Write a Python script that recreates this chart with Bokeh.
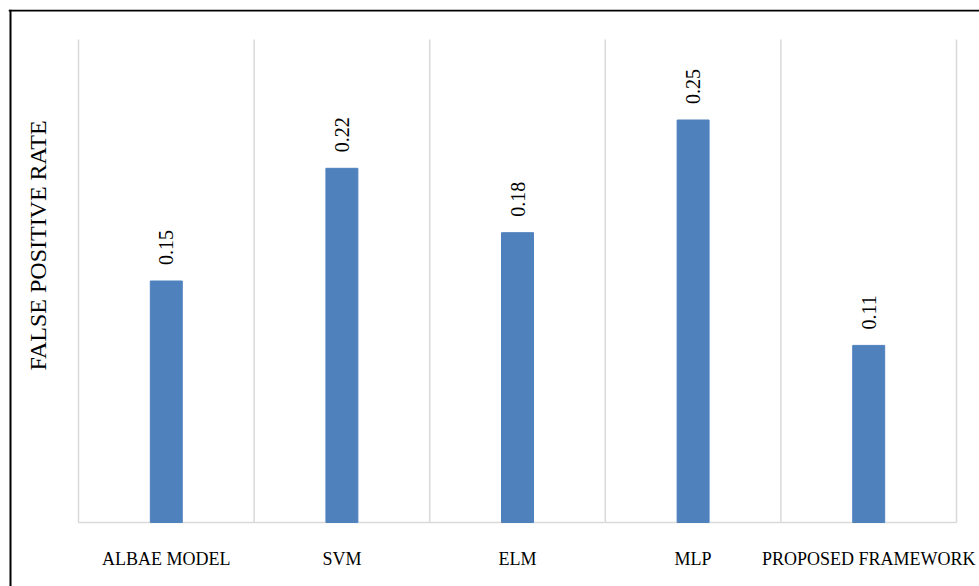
import math
from bokeh.plotting import figure
from bokeh.models import ColumnDataSource, Range1d, Span
from bokeh.core.properties import value
from bokeh.embed import file_html
from bokeh.resources import INLINE

# Data
categories = ["ALBAE MODEL", "SVM", "ELM", "MLP", "PROPOSED FRAMEWORK"]
fpr = [0.15, 0.22, 0.18, 0.25, 0.11]
y_title = "FALSE POSITIVE RATE"

FONT = "Liberation Serif"
BAR_COLOR = "#4F81BD"
GRID_COLOR = "#D9D9D9"

W, H = 979, 586
# pixel geometry of the plotting area (origin = bottom-left corner of the bar area)
X0_PX, Y0_PX = 78, 522
PX_PER_CAT = 175.6
PX_PER_UNIT = 1610.0
FRAME_LEFT, FRAME_TOP = 8, 9


def dx(px):
    return (px - X0_PX) / PX_PER_CAT


def dy(py):
    return (Y0_PX - py) / PX_PER_UNIT


n = len(categories)
centers = [i + 0.5 for i in range(n)]
ymax = 0.3

p = figure(width=W, height=H, output_backend="svg", toolbar_location=None,
           x_range=Range1d(dx(FRAME_LEFT), dx(W)), y_range=Range1d(dy(H), dy(FRAME_TOP)),
           x_axis_location=None, y_axis_location=None,
           min_border_left=FRAME_LEFT, min_border_top=FRAME_TOP,
           min_border_right=0, min_border_bottom=0)
p.outline_line_color = None
p.xgrid.grid_line_color = None
p.ygrid.grid_line_color = None
p.background_fill_color = "white"
p.border_fill_color = "white"

# vertical separators between categories and the base line
bounds = list(range(n + 1))
p.segment(x0=bounds, y0=[0] * len(bounds), x1=bounds, y1=[ymax] * len(bounds),
          line_color=GRID_COLOR, line_width=1.5)
p.segment(x0=[0], y0=[0], x1=[n], y1=[0], line_color=GRID_COLOR, line_width=1.5)

# bars
src = ColumnDataSource(dict(x=centers, top=fpr, lbl=[f"{v:.2f}" for v in fpr]))
p.vbar(x="x", top="top", width=0.182, color=BAR_COLOR, source=src)

# value labels, rotated above each bar
p.text(x="x", y="top", text="lbl", source=src, angle=math.pi / 2,
       text_align="left", text_baseline="middle", y_offset=-16,
       text_font=value(FONT), text_font_size="20px", text_color="#000000")

# category names under the base line
p.text(x=centers, y=[0] * n, text=categories, y_offset=36,
       text_align="center", text_baseline="middle",
       text_font=value(FONT), text_font_size="18px", text_color="#000000")

# y axis title
p.text(x=[dx(37)], y=[dy(245)], text=[y_title], angle=math.pi / 2,
       text_align="center", text_baseline="middle",
       text_font=value(FONT), text_font_size="24px", text_color="#000000")

# outer border (left and top edges are inside the window)
p.add_layout(Span(location=dx(10), dimension="height", line_color="#000000", line_width=2))
p.add_layout(Span(location=dy(10), dimension="width", line_color="#000000", line_width=2))

open("out.html", "w").write(file_html(p, INLINE))
